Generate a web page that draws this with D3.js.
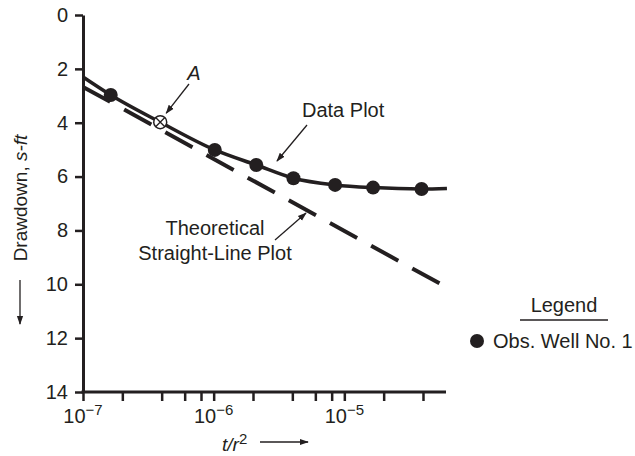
<!DOCTYPE html>
<html>
<head>
<meta charset="utf-8">
<script src="https://cdn.jsdelivr.net/npm/d3@7"></script>
<style>
  body { margin: 0; background: #fff; }
  text { font-family: "Liberation Sans", Arial, Helvetica, sans-serif; fill: #231f20; }
</style>
</head>
<body>
<script>
// Observed drawdown, Obs. Well No. 1
var tr2 = [1.63e-7, 1.02e-6, 2.12e-6, 4.08e-6, 8.5e-6, 1.66e-5, 3.9e-5];
var drawdown = [2.97, 5.01, 5.57, 6.06, 6.31, 6.41, 6.46];

// Point A (match point)
var pointAx = 3.9e-7, pointAy = 3.98;

// Smooth data plot curve
var curveX = [1e-7, 1.63e-7, 3.9e-7, 1.02e-6, 2.12e-6, 4.08e-6, 8.5e-6, 1.66e-5, 3.9e-5, 6.1e-5];
var curveY = [2.30, 2.97, 3.98, 5.01, 5.57, 6.06, 6.31, 6.41, 6.46, 6.44];

// Theoretical straight line
var theoryX = [1e-7, 6e-5];
var theoryY = [2.67, 10.10];

// Tick labels
var yTicks = [0, 2, 4, 6, 8, 10, 12, 14];
var xMajor = [1e-7, 1e-6, 1e-5];
var xMajorLabels = ["\u22127", "\u22126", "\u22125"];
var xTicks = [1e-7, 2e-7, 4e-7, 6e-7, 8e-7, 1e-6, 2e-6, 4e-6, 6e-6, 8e-6, 1e-5, 2e-5, 4e-5];

var ink = "#231f20";
var W = 635, H = 456;

var svg = d3.select("body").append("svg")
    .attr("width", W)
    .attr("height", H);

var defs = svg.append("defs");
defs.append("marker")
    .attr("id", "head")
    .attr("viewBox", "0 0 10 10")
    .attr("refX", 9).attr("refY", 5)
    .attr("markerWidth", 9).attr("markerHeight", 9)
    .attr("markerUnits", "userSpaceOnUse")
    .attr("orient", "auto")
  .append("path")
    .attr("d", "M0,1.5 L10,5 L0,8.5 Z")
    .attr("fill", ink);

// Scales
var x = d3.scaleLog().domain([1e-7, 6e-5]).range([83, 446]);
var y = d3.scaleLinear().domain([0, 14]).range([15, 392]);

// Y axis
var yAxis = d3.axisLeft(y).tickValues(yTicks).tickSize(8).tickSizeOuter(0).tickPadding(7);
var gy = svg.append("g")
    .attr("transform", "translate(83,0)")
    .call(yAxis);
gy.select(".domain").attr("stroke", ink).attr("stroke-width", 3);
gy.selectAll(".tick line").attr("stroke", ink).attr("stroke-width", 2.5);
gy.selectAll(".tick text")
    .style("font-size", "20px")
    .attr("fill", ink);

// X axis
var xAxis = d3.axisBottom(x).tickValues(xTicks).tickSize(9).tickSizeOuter(0).tickFormat("");
var gx = svg.append("g")
    .attr("transform", "translate(0,392)")
    .call(xAxis);
gx.select(".domain").attr("stroke", ink).attr("stroke-width", 3)
    .attr("d", "M" + (83 - 1.5) + ",0H" + 446);
gx.selectAll(".tick line").attr("stroke", ink).attr("stroke-width", 2.5);

// Major labels 10^n
xMajor.forEach(function(v, i) {
  var t = svg.append("text")
      .attr("x", x(v))
      .attr("y", 423)
      .attr("text-anchor", "middle")
      .style("font-size", "20px");
  t.append("tspan").text("10");
  t.append("tspan")
      .attr("dy", -8)
      .style("font-size", "15px")
      .text(xMajorLabels[i]);
});

// Theoretical straight line (dashed)
var line = d3.line()
    .x(function(d) { return x(d[0]); })
    .y(function(d) { return y(d[1]); });

svg.append("path")
    .attr("d", line(d3.zip(theoryX, theoryY)))
    .attr("fill", "none")
    .attr("stroke", ink)
    .attr("stroke-width", 4)
    .attr("stroke-dasharray", "31,16");

// Data plot curve
var smooth = d3.line()
    .x(function(d) { return x(d[0]); })
    .y(function(d) { return y(d[1]); })
    .curve(d3.curveMonotoneX);

svg.append("path")
    .attr("d", smooth(d3.zip(curveX, curveY)))
    .attr("fill", "none")
    .attr("stroke", ink)
    .attr("stroke-width", 3.5);

// Observation points
svg.selectAll("circle.obs")
    .data(d3.zip(tr2, drawdown))
  .enter().append("circle")
    .attr("class", "obs")
    .attr("cx", function(d) { return x(d[0]); })
    .attr("cy", function(d) { return y(d[1]); })
    .attr("r", 7)
    .attr("fill", ink);

// Point A: circle with cross
var ax = x(pointAx), ay = y(pointAy);
svg.append("circle")
    .attr("cx", ax).attr("cy", ay).attr("r", 6.5)
    .attr("fill", "#fff").attr("stroke", ink).attr("stroke-width", 1.5);
var k = 6.5 * Math.SQRT1_2;
svg.append("path")
    .attr("d", "M" + (ax - k) + "," + (ay - k) + "L" + (ax + k) + "," + (ay + k) +
               "M" + (ax - k) + "," + (ay + k) + "L" + (ax + k) + "," + (ay - k))
    .attr("stroke", ink).attr("stroke-width", 1.3);

// Annotations
function arrow(x1, y1, x2, y2) {
  svg.append("line")
      .attr("x1", x1).attr("y1", y1).attr("x2", x2).attr("y2", y2)
      .attr("stroke", ink).attr("stroke-width", 1.3)
      .attr("marker-end", "url(#head)");
}

svg.append("text")
    .attr("x", 194).attr("y", 80)
    .attr("text-anchor", "middle")
    .style("font-size", "20px").style("font-style", "italic")
    .text("A");
arrow(189, 84, ax + 6, ay - 9);

svg.append("text")
    .attr("x", 302).attr("y", 117)
    .style("font-size", "20px")
    .text("Data Plot");
arrow(307, 125, 277, 161);

svg.append("text")
    .attr("x", 215).attr("y", 235)
    .attr("text-anchor", "middle")
    .style("font-size", "20px")
    .text("Theoretical");
svg.append("text")
    .attr("x", 215).attr("y", 260)
    .attr("text-anchor", "middle")
    .style("font-size", "20px")
    .text("Straight-Line Plot");
arrow(275, 240, 306, 213);

// Y axis title
var yt = svg.append("text")
    .attr("transform", "translate(27,198) rotate(-90)")
    .attr("text-anchor", "middle")
    .style("font-size", "19px");
yt.append("tspan").text("Drawdown, ");
yt.append("tspan").style("font-style", "italic").text("s-ft");
arrow(20, 280, 20, 324);

// X axis title
var xt = svg.append("text")
    .attr("x", 222).attr("y", 451)
    .style("font-size", "19px");
xt.append("tspan").style("font-style", "italic").text("t/r");
xt.append("tspan").attr("dy", -7).style("font-size", "15px").text("2");
arrow(260, 442, 308, 442);

// Legend
svg.append("text")
    .attr("x", 564).attr("y", 312)
    .attr("text-anchor", "middle")
    .style("font-size", "20px")
    .text("Legend");
svg.append("line")
    .attr("x1", 520).attr("x2", 608).attr("y1", 320).attr("y2", 320)
    .attr("stroke", ink).attr("stroke-width", 1.5);
svg.append("circle")
    .attr("cx", 477).attr("cy", 341).attr("r", 7)
    .attr("fill", ink);
svg.append("text")
    .attr("x", 493).attr("y", 348)
    .style("font-size", "20px")
    .text("Obs. Well No. 1");
</script>
</body>
</html>
